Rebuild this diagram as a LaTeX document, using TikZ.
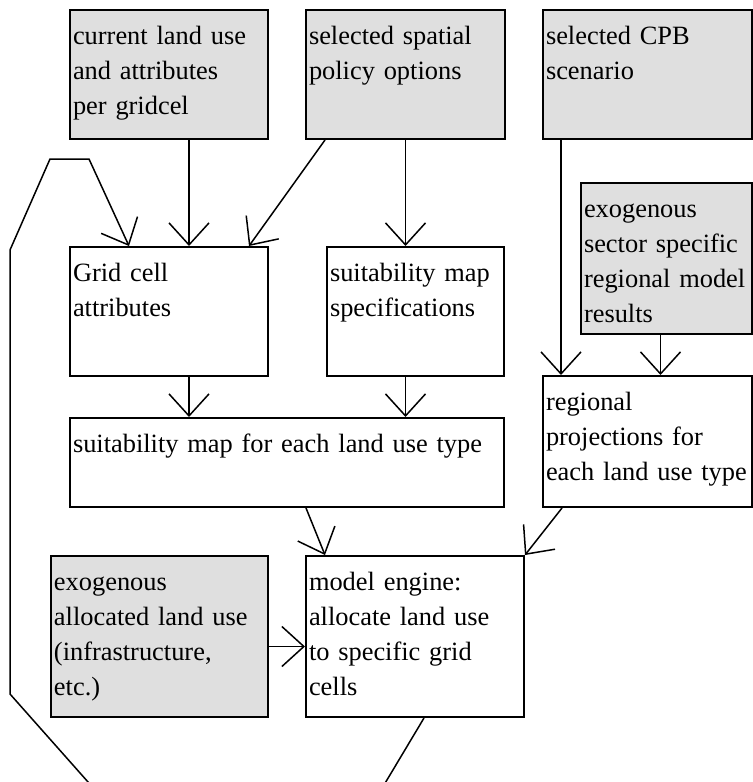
\documentclass[tikz,border=0pt]{standalone}
\usepackage{fontspec}
\setmainfont{Liberation Serif}
\usetikzlibrary{arrows.meta, calc}
\definecolor{boxgrey}{HTML}{DFDFDF}
\tikzset{
  block/.style={rectangle, draw=black, line width=1pt, fill=white, anchor=north west,
    align=left, inner xsep=1.5pt, inner ysep=0pt, text height=17pt,
    font=\fontsize{13.2}{17.5}\selectfont},
  blockGrey/.style={block, fill=boxgrey},
  arrow/.style={-{Straight Barb[length=11pt, width=20pt]}, line width=.75pt},
}

\begin{document}
\begin{tikzpicture}[x=0.5pt, y=-0.5pt]
\useasboundingbox (0,0) rectangle (752,782);
% inputs
\node[blockGrey, text width=96pt, text depth=47.5pt] (cur) at (69,9) {current land use\\and attributes\\per gridcel};
\node[blockGrey, text width=96.5pt, text depth=47.5pt] (pol) at (305,9) {selected spatial\\policy options};
\node[blockGrey, text width=101.5pt, text depth=47.5pt] (cpb) at (542,9) {selected CPB\\scenario};
\node[blockGrey, text width=82.5pt, text depth=58.5pt] (sect) at (580,182) {exogenous\\sector specific\\regional~model\\results};
% intermediate steps
\node[block, text width=96pt, text depth=47.5pt] (attr) at (69,246) {Grid cell\\attributes};
\node[block, text width=85.5pt, text depth=47.5pt] (spec) at (326,246) {suitability map\\specifications};
\node[block, text width=214pt, text depth=27.5pt] (suit) at (69,417) {suitability map for each land use type};
\node[block, text width=101.5pt, text depth=48.5pt] (proj) at (542,375) {regional\\projections for\\each~land~use~type};
\node[blockGrey, text width=105.5pt, text depth=63.5pt] (exo) at (50,555) {exogenous\\allocated land use\\(infrastructure,\\etc.)};
\node[block, text width=106pt, text depth=63.5pt] (eng) at (305,555) {model engine:\\allocate land use\\to specific grid\\cells};
% connectors
\draw[arrow] ([xshift=10pt]cur.south) -- ([xshift=10pt]attr.north);
\draw[arrow] ([xshift=10pt]pol.south west) -- ([xshift=-10pt]attr.north east);
\draw[arrow] (pol.south) -- (pol.south |- spec.north);
\draw[arrow] ([xshift=10pt]attr.south) -- ([xshift=10pt]attr.south |- suit.north);
\draw[arrow] ([xshift=-5pt]spec.south) -- ([xshift=-5pt]spec.south |- suit.north);
\draw[arrow] ([xshift=9.5pt]cpb.south west) -- ([xshift=9.5pt]proj.north west);
\draw[arrow] ([xshift=-3pt]sect.south) -- ([xshift=-3pt]sect.south |- proj.north);
\draw[arrow] ([xshift=9.5pt]suit.south) -- ([xshift=10pt]eng.north west);
\draw[arrow] ([xshift=10pt]proj.south west) -- (eng.north east);
\draw[arrow] ([yshift=-5pt]exo.east) -- ([yshift=-5pt]eng.west);
% feedback loop
\begin{scope}
\clip (0,0) rectangle (752,782);
\draw[arrow] ([xshift=4.5pt]eng.south) -- (375,800) -- (104,800) -- (10,694) -- (10,250)
  -- (50,159) -- (89,159) -- ([xshift=-20pt]attr.north);
\end{scope}
\end{tikzpicture}
\end{document}
